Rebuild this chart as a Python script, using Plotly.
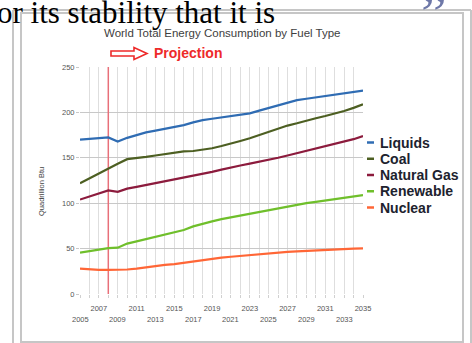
import plotly.graph_objects as go

# ---- data (quadrillion Btu) ----
YEARS = list(range(2005, 2036))

LIQUIDS = [170, 171, 172, 172.5, 168, 172, 175, 178, 180, 182, 184, 186, 189,
           191.5, 193, 194.5, 195.5, 197, 199, 202, 205, 208, 211, 213.5, 215,
           216.5, 218, 219.5, 221, 222.5, 224]
COAL = [122, 127.5, 133, 138.5, 143.5, 148.5, 149.5, 151, 152.5, 154, 156, 157,
        157.5, 159, 160.5, 163, 165.5, 168.5, 171.5, 175, 178.5, 182, 185.5,
        188, 191, 193.5, 196, 198.5, 201.5, 205, 209]
NATURAL_GAS = [104, 107.5, 111, 114, 112.5, 116, 118, 120, 122, 124, 126, 128,
               130, 132, 134.5, 137, 139.5, 141.5, 143.5, 145.5, 147.5, 150,
               152.5, 155, 157.5, 160, 162.5, 165, 167.5, 170.5, 174]
RENEWABLE = [45.5, 47, 48.5, 50.5, 51, 55.5, 58, 60.5, 63, 65.5, 67.5, 70.5,
             74.5, 77.5, 80, 82.5, 84.5, 86.5, 88.5, 90.5, 92.5, 94.5, 96.5,
             98.5, 100, 101.5, 103, 104.5, 106, 107.5, 109]
NUCLEAR = [28, 27, 26.5, 26.5, 26.5, 27, 28, 29.5, 31, 32, 33, 34.5, 36, 37.5,
           39, 40, 41, 42, 43, 44, 44.8, 45.5, 46.3, 47, 47.6, 48.2, 48.7, 49.2,
           49.6, 50, 50.3]

SERIES_NAMES = ["Liquids", "Coal", "Natural Gas", "Renewable", "Nuclear"]
SERIES_VALUES = [LIQUIDS, COAL, NATURAL_GAS, RENEWABLE, NUCLEAR]

PROJECTION_START = 2008

# staggered year labels: two rows under the axis
UPPER_ROW_LABELS = [2007, 2011, 2015, 2019, 2023, 2027, 2031, 2035]
LOWER_ROW_LABELS = [2005, 2009, 2013, 2017, 2021, 2025, 2029, 2033]

Y_RANGE = [0, 250]
Y_TICKS = [0, 50, 100, 150, 200, 250]

TITLE = "World Total Energy Consumption by Fuel Type"
Y_TITLE = "Quadrillion Btu"
PROJECTION_TEXT = "Projection"
PAGE_TEXT = "or its stability that it is"
QUOTE_MARK = "\u201d"

# ---- styling ----
COLORS = {
    "Liquids": "#2f6cb3",
    "Coal": "#4d5f22",
    "Natural Gas": "#8c1b3d",
    "Renewable": "#6fbf2b",
    "Nuclear": "#ff6636",
}
PROJECTION_COLOR = "#e8707a"
TICK_FONT = dict(family="Liberation Sans", size=7.5, color="#555555")

W, H = 472, 343
PLOT_L, PLOT_R, PLOT_T, PLOT_B = 80, 363, 67, 294


def px(x):
    return (x - PLOT_L) / (PLOT_R - PLOT_L)


def py(y):
    return (PLOT_B - y) / (PLOT_B - PLOT_T)


fig = go.Figure()

# vertical marker where the projection starts
fig.add_trace(go.Scatter(
    x=[PROJECTION_START, PROJECTION_START], y=Y_RANGE, mode="lines",
    line=dict(color=PROJECTION_COLOR, width=1.5),
    showlegend=False, hoverinfo="skip",
))

for name, vals in zip(SERIES_NAMES, SERIES_VALUES):
    fig.add_trace(go.Scatter(
        x=YEARS, y=vals, name=name, mode="lines",
        line=dict(color=COLORS[name], width=2.2),
        showlegend=False, hoverinfo="x+y+name",
    ))

# upper label row goes on the axis itself, the lower row as annotations
tick_text = [str(yr) if yr in UPPER_ROW_LABELS else "" for yr in YEARS]

shapes = []
annotations = []

# outlined arrow pointing at the projection label
arrow_pts = [(111, 51), (134, 51), (134, 47.5), (147, 53.5), (134, 59.5),
             (134, 56), (111, 56)]
path = "M " + " L ".join(f"{px(x):.4f},{py(y):.4f}" for x, y in arrow_pts) + " Z"
shapes.append(dict(type="path", xref="paper", yref="paper", path=path,
                   line=dict(color="#ee2a2a", width=1.6), fillcolor="white",
                   layer="above"))

# page frame around the chart image
frame = "#c6c6c6"
shapes.append(dict(type="rect", xref="paper", yref="paper",
                   x0=px(21), x1=px(463), y0=py(342), y1=py(13),
                   line=dict(color=frame, width=2), layer="below"))
shapes.append(dict(type="line", xref="paper", yref="paper",
                   x0=px(13), x1=px(13), y0=py(346), y1=py(10),
                   line=dict(color=frame, width=2), layer="below"))
shapes.append(dict(type="line", xref="paper", yref="paper",
                   x0=px(13), x1=px(471), y0=py(10), y1=py(10),
                   line=dict(color=frame, width=2), layer="below"))
shapes.append(dict(type="line", xref="paper", yref="paper",
                   x0=px(471), x1=px(471), y0=py(346), y1=py(10),
                   line=dict(color=frame, width=2), layer="below"))

# legend drawn by hand for tight row spacing
for i, name in enumerate(SERIES_NAMES):
    yc = 142.5 + 16.25 * i
    shapes.append(dict(type="line", xref="paper", yref="paper",
                       x0=px(367), x1=px(374), y0=py(yc), y1=py(yc),
                       line=dict(color=COLORS[name], width=2.5)))
    annotations.append(dict(text=name, xref="paper", yref="paper",
                            x=px(378), y=py(yc), xanchor="left", yanchor="middle",
                            showarrow=False,
                            font=dict(family="Liberation Sans", size=14,
                                      color="#20222e", weight="bold")))

for yr in LOWER_ROW_LABELS:
    annotations.append(dict(text=str(yr), xref="x", yref="paper",
                            x=yr, y=py(319.5), xanchor="center",
                            yanchor="middle", showarrow=False, font=TICK_FONT))

annotations += [
    dict(text=TITLE, xref="paper", yref="paper", x=px(222), y=py(32.5),
         xanchor="center", yanchor="middle", showarrow=False,
         font=dict(family="Liberation Sans", size=11.5, color="#404040")),
    dict(text=PROJECTION_TEXT, xref="paper", yref="paper", x=px(152), y=py(53),
         xanchor="left", yanchor="middle", showarrow=False,
         font=dict(family="Liberation Sans", size=14, color="#ee2a2a",
                   weight="bold")),
    dict(text=Y_TITLE, xref="paper", yref="paper", x=px(41), y=py(192),
         xanchor="center", yanchor="middle", textangle=-90, showarrow=False,
         font=dict(family="Liberation Sans", size=7.5, color="#444444")),
    # running page text above the chart and the closing quote mark
    dict(text=PAGE_TEXT, xref="paper", yref="paper", x=px(-5), y=py(-7.5),
         xanchor="left", yanchor="top", showarrow=False,
         font=dict(family="Liberation Serif", size=31, color="#000000")),
    dict(text=QUOTE_MARK, xref="paper", yref="paper", x=px(434), y=py(48),
         xanchor="center", yanchor="bottom", showarrow=False,
         font=dict(family="Liberation Serif", size=58, color="#6e78a8")),
]

fig.update_layout(
    width=W, height=H, autosize=False,
    margin=dict(l=PLOT_L, r=W - PLOT_R, t=PLOT_T, b=H - PLOT_B, pad=0),
    paper_bgcolor="white", plot_bgcolor="white",
    showlegend=False,
    shapes=shapes, annotations=annotations,
    xaxis=dict(range=[2005, 2035], tickmode="array", tickvals=YEARS,
               ticktext=tick_text, showgrid=True, gridcolor="#dedede",
               gridwidth=1, zeroline=False, showline=False,
               ticks="outside", ticklen=3, tickcolor="#d0d0d0",
               ticklabelstandoff=4, tickfont=TICK_FONT),
    yaxis=dict(range=Y_RANGE, tickmode="array", tickvals=Y_TICKS,
               showgrid=True, gridcolor="#c8c8c8", gridwidth=1,
               zeroline=False, showline=False,
               ticks="outside", ticklen=3, tickcolor="#c8c8c8",
               tickfont=TICK_FONT),
)

fig.write_html("out.html")
